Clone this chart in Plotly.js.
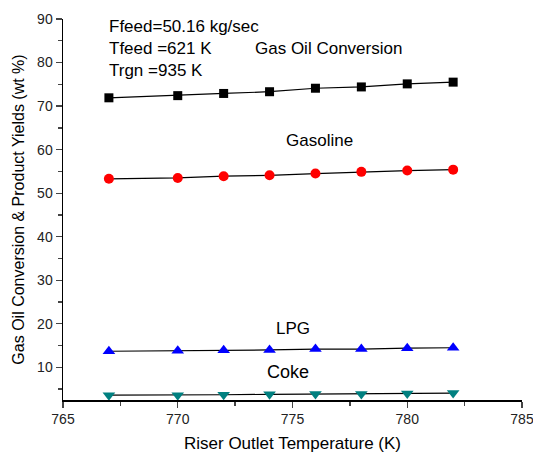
<!DOCTYPE html>
<html><head><meta charset="utf-8">
<script src="https://cdn.plot.ly/plotly-3.0.1.min.js"></script>
<style>html,body{margin:0;padding:0;background:#fff}#chart{width:533px;height:453px}</style>
</head><body><div id="chart"></div>
<script>
const temps = [767, 770, 772, 774, 776, 778, 780, 782];
const gasOilConversion = [71.9, 72.4, 72.9, 73.3, 74.1, 74.4, 75.1, 75.5];
const gasoline = [53.3, 53.5, 53.9, 54.1, 54.5, 54.9, 55.2, 55.4];
const lpg = [13.7, 13.8, 13.9, 14.0, 14.2, 14.2, 14.4, 14.5];
const coke = [3.6, 3.6, 3.7, 3.8, 3.9, 3.9, 4.0, 4.1];
const xTicks = [765, 770, 775, 780, 785];
const yTicks = [10, 20, 30, 40, 50, 60, 70, 80, 90];

const font = 'Liberation Sans, Arial, sans-serif';
function tr(y, color, symbol, size) {
  return {x: temps, y: y, mode: 'lines+markers', type: 'scatter',
    line: {color: '#000', width: 1.2},
    marker: {color: color, symbol: symbol, size: size}, showlegend: false, cliponaxis: false};
}
const data = [
  tr(gasOilConversion, '#000000', 'square', 9),
  tr(gasoline, '#ff0000', 'circle', 10),
  tr(lpg, '#0000ff', 'triangle-up', 11),
  tr(coke, '#008080', 'triangle-down', 11)
];
function ann(x, y, text, size, align) {
  return {xref: 'paper', yref: 'paper', x: x, y: y, text: text, showarrow: false,
    xanchor: align || 'center', yanchor: 'middle', font: {family: font, size: size, color: '#000'}};
}
// paper coords: plot l=63,r=522,t=19,b=400
function px(x){return (x-63)/(522-63);} function py(y){return (400-y)/(400-19);}
const layout = {
  width: 533, height: 453,
  margin: {l: 63, r: 11, t: 19, b: 53},
  paper_bgcolor: '#fff', plot_bgcolor: '#fff',
  font: {family: font, color: '#000'},
  xaxis: {range: [765, 785], tickvals: xTicks, ticks: 'outside', ticklen: 6, tickwidth: 1.3,
    showline: true, linewidth: 1.5, linecolor: '#000', showgrid: false, zeroline: false,
    tickfont: {size: 14, color: '#222'}, ticklabeloverflow: 'allow',
    minor: {dtick: 2.5, tick0: 765, ticks: 'outside', ticklen: 4, tickwidth: 1.3, showgrid: false},
    title: {text: 'Riser Outlet Temperature (K)', font: {size: 17, color: '#000'}, standoff: 11}},
  yaxis: {range: [2.5, 90], tickvals: yTicks, ticks: 'outside', ticklen: 6, tickwidth: 1.3,
    showline: true, linewidth: 1.5, linecolor: '#000', showgrid: false, zeroline: false,
    tickfont: {size: 14, color: '#222'},
    minor: {dtick: 5, tick0: 10, ticks: 'outside', ticklen: 4, tickwidth: 1.3, showgrid: false},
    title: {text: 'Gas Oil Conversion & Product Yields (wt %)', font: {size: 16, color: '#000'}, standoff: 8}},
  annotations: [
    ann(px(107), py(26), 'Ffeed=50.16 kg/sec', 17, 'left'),
    ann(px(107), py(48), 'Tfeed =621 K', 17, 'left'),
    ann(px(107), py(70), 'Trgn =935 K', 17, 'left'),
    ann(px(328), py(49), 'Gas Oil Conversion', 17),
    ann(px(319), py(140), 'Gasoline', 17),
    ann(px(293), py(328), 'LPG', 17),
    ann(px(288), py(372), 'Coke', 18)
  ]
};
Plotly.newPlot('chart', data, layout, {staticPlot: true});
</script></body></html>
